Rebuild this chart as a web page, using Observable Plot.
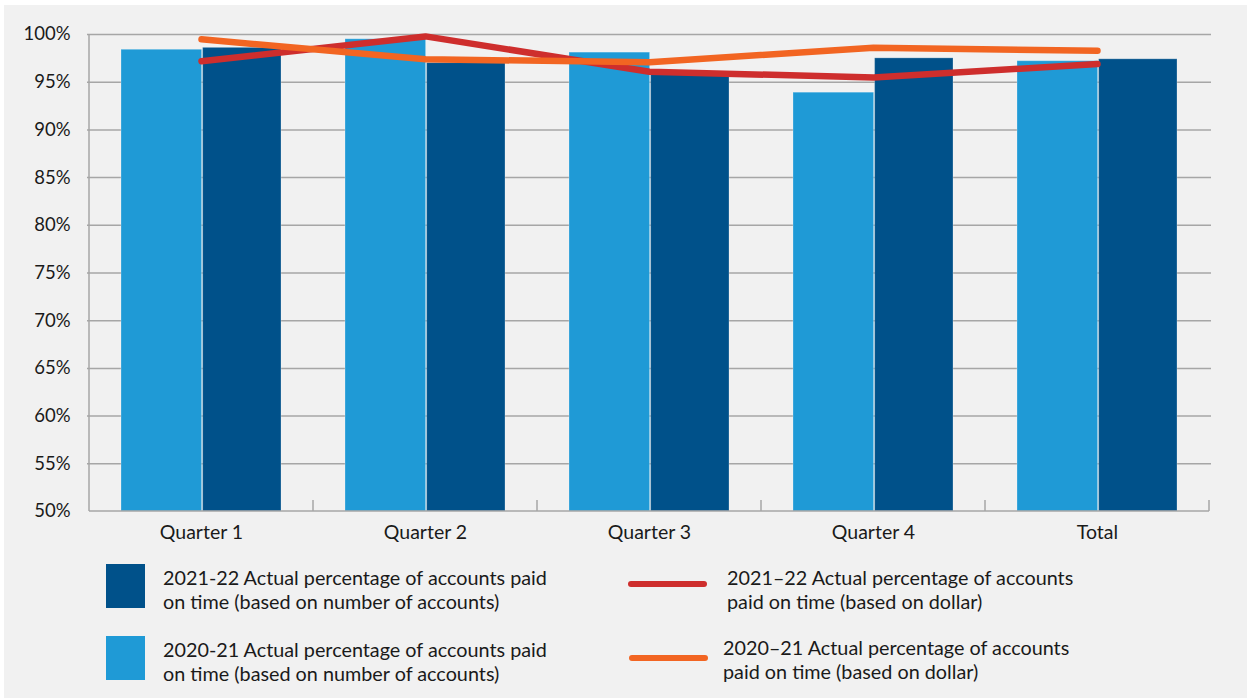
<!DOCTYPE html>
<html>
<head>
<meta charset="utf-8">
<script src="https://cdn.jsdelivr.net/npm/d3@7"></script>
<script src="https://cdn.jsdelivr.net/npm/@observablehq/plot@0.6"></script>
<style>
  html, body { margin: 0; padding: 0; background: #ffffff; }
  #page { position: relative; width: 1247px; height: 698px; overflow: hidden; font-family: Lato, "Open Sans", sans-serif; color: #1a1a1a; }
  #bg { position: absolute; left: 4px; top: 5px; width: 1243px; height: 693px; background: #F1F1F1; }
  #chart { position: absolute; left: 0; top: 0; }
  .sw { position: absolute; width: 39px; height: 44px; }
  .ln { position: absolute; height: 6px; border-radius: 3px; }
  .lt { position: absolute; font-size: 19.8px; line-height: 24px; white-space: nowrap; }
</style>
</head>
<body>
<div id="page">
  <div id="bg"></div>
  <div id="chart"></div>
  <div id="legend"></div>
</div>
<script>
// ---- data ----
const categories = ["Quarter 1", "Quarter 2", "Quarter 3", "Quarter 4", "Total"];
const accounts2021_22 = [98.6, 97.0, 96.0, 97.5, 97.4];   // dark blue bars
const accounts2020_21 = [98.4, 99.5, 98.1, 93.9, 97.2];   // light blue bars
const dollar2021_22   = [97.2, 99.8, 96.1, 95.5, 96.9];   // red line
const dollar2020_21   = [99.5, 97.4, 97.1, 98.6, 98.3];   // orange line
const yTicks = [50, 55, 60, 65, 70, 75, 80, 85, 90, 95, 100];
const legendLabels = [
  "2021-22 Actual percentage of accounts paid<br>on time (based on number of accounts)",
  "2020-21 Actual percentage of accounts paid<br>on time (based on number of accounts)",
  "2021–22 Actual percentage of accounts<br>paid on time (based on dollar)",
  "2020–21 Actual percentage of accounts<br>paid on time (based on dollar)"
];

const C = { dark: "#00518A", light: "#1F9AD6", red: "#CE2E2D", orange: "#F26522", grid: "#A6A6A6" };

const rows = (vals) => categories.map((c, i) => ({ cat: c, v: vals[i] }));

// frame: left axis line, baseline, and boundary ticks using the library's x/y scales
function frameMark(index, scales, values, dims) {
  const x = scales.x, y = scales.y;
  const g = d3.create("svg:g").attr("stroke", C.grid).attr("stroke-width", 1.5).attr("fill", "none");
  const x0 = x(categories[0]);
  const xEnd = x(categories[categories.length - 1]) + x.bandwidth();
  const yb = y(yTicks[0]), yt = y(yTicks[yTicks.length - 1]);
  g.append("line").attr("x1", x0).attr("x2", x0).attr("y1", yt).attr("y2", yb);
  g.append("line").attr("x1", x0).attr("x2", xEnd).attr("y1", yb).attr("y2", yb);
  const bounds = categories.slice(1).map(c => x(c)).concat([xEnd]);
  for (const bx of bounds) g.append("line").attr("x1", bx).attr("x2", bx).attr("y1", yb - 11).attr("y2", yb);
  return g.node();
}

const chart = Plot.plot({
  width: 1247,
  height: 550,
  marginLeft: 87,
  marginRight: 36,
  marginTop: 34,
  marginBottom: 39,
  style: { fontFamily: "Lato, 'Open Sans', sans-serif", fontSize: "18.5px", background: "transparent", color: "#1a1a1a", overflow: "visible" },
  x: { type: "band", domain: categories, padding: 0, label: null },
  y: { domain: [50, 100], clamp: true, label: null },
  marks: [
    Plot.ruleY(yTicks.slice(1), { stroke: C.grid, strokeWidth: 1.5 }),
    Plot.barY(rows(accounts2020_21), { x: "cat", y: "v", fill: C.light, insetLeft: 32, insetRight: 111.4, stroke: "#ffffff", strokeOpacity: 0.25, strokeWidth: 1 }),
    Plot.barY(rows(accounts2021_22), { x: "cat", y: "v", fill: C.dark, insetLeft: 113.6, insetRight: 32, stroke: "#ffffff", strokeOpacity: 0.25, strokeWidth: 1 }),
    frameMark,
    Plot.line(rows(dollar2021_22), { x: "cat", y: "v", stroke: C.red, strokeWidth: 6.5, strokeLinecap: "round", strokeLinejoin: "miter" }),
    Plot.line(rows(dollar2020_21), { x: "cat", y: "v", stroke: C.orange, strokeWidth: 6.5, strokeLinecap: "round", strokeLinejoin: "miter" }),
    Plot.axisY({ ticks: yTicks, tickSize: 0, tickPadding: 17, tickFormat: d => d + "%", label: null }),
    Plot.axisX({ tickSize: 0, tickPadding: 14, label: null, fontSize: 19.5 })
  ]
});
document.getElementById("chart").appendChild(chart);

// ---- legend (HTML, below the SVG) ----
const legend = document.getElementById("legend");
const items = [
  { kind: "sw", color: C.dark,   box: [106, 564], text: [163, 565], label: legendLabels[0] },
  { kind: "sw", color: C.light,  box: [106, 636], text: [163, 637], label: legendLabels[1] },
  { kind: "ln", color: C.red,    box: [628, 581], text: [727, 565], label: legendLabels[2] },
  { kind: "ln", color: C.orange, box: [629, 655], text: [723, 635], label: legendLabels[3] }
];
for (const it of items) {
  const m = document.createElement("div");
  m.className = it.kind;
  m.style.left = it.box[0] + "px";
  m.style.top = it.box[1] + "px";
  m.style.background = it.color;
  if (it.kind === "ln") m.style.width = "79px";
  legend.appendChild(m);
  const t = document.createElement("div");
  t.className = "lt";
  t.style.left = it.text[0] + "px";
  t.style.top = it.text[1] + "px";
  t.innerHTML = it.label;
  legend.appendChild(t);
}
</script>
</body>
</html>
